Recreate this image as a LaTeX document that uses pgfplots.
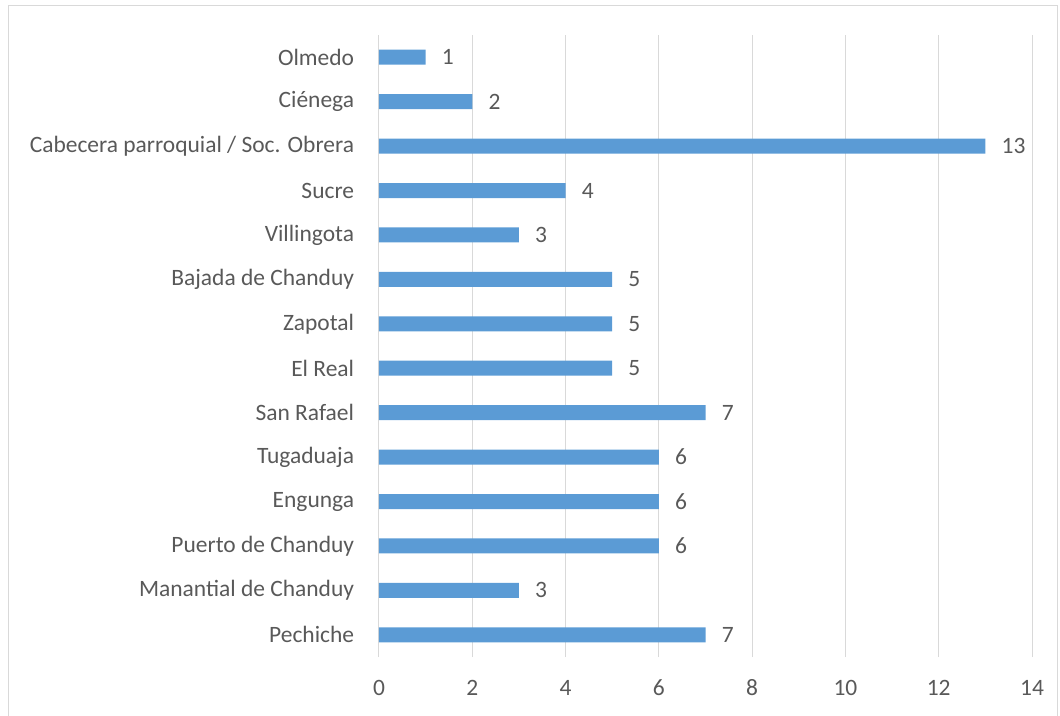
\documentclass[border=0pt]{standalone}
\usepackage{fontspec}
\setmainfont{Carlito}
\usepackage{pgfplots}
\pgfplotsset{compat=1.18}
\definecolor{barblue}{HTML}{5B9BD5}
\definecolor{txtgray}{HTML}{595959}
\definecolor{gridgray}{HTML}{D9D9D9}
\newcommand{\lblfont}{\fontsize{17.6pt}{20pt}\selectfont}

\begin{document}
\begin{tikzpicture}
\useasboundingbox (0,0) rectangle (795pt,-536.25pt);
% chart frame (its bottom edge falls below the page)
\draw[gridgray, line width=0.75pt] (6pt,-3.75pt) rectangle (792.75pt,-545pt);
\begin{axis}[
  at={(284.25pt,-492.75pt)}, anchor=south west,
  scale only axis, width=489.75pt, height=466.5pt,
  xbar, bar width=11.25pt,
  xmin=0, xmax=14, ymin=-0.5, ymax=13.5,
  xtick={0,2,...,14}, ytick={0,...,13},
  yticklabels={Pechiche, Manantial de Chanduy, Puerto de Chanduy, Engunga,
    Tugaduaja, San Rafael, El Real, Zapotal, Bajada de Chanduy, Villingota,
    Sucre, Cabecera parroquial / Soc. Obrera, Ciénega, Olmedo},
  axis lines=left, axis line style={draw=none}, major tick length=0pt,
  xmajorgrids, grid style={gridgray, line width=0.75pt},
  tick label style={font=\lblfont, text=txtgray, inner sep=0pt},
  xticklabel shift=17pt, yticklabel shift=18.5pt,
  /pgf/number format/assume math mode=true,
  nodes near coords,
  every node near coord/.append style={font=\lblfont, text=txtgray,
    anchor=west, inner sep=0pt, xshift=12pt},
]
\addplot[fill=barblue, draw=none] coordinates {
  (7,0) (3,1) (6,2) (6,3) (6,4) (7,5) (5,6) (5,7) (5,8) (3,9)
  (4,10) (13,11) (2,12) (1,13) };
\end{axis}
\end{tikzpicture}
\end{document}
